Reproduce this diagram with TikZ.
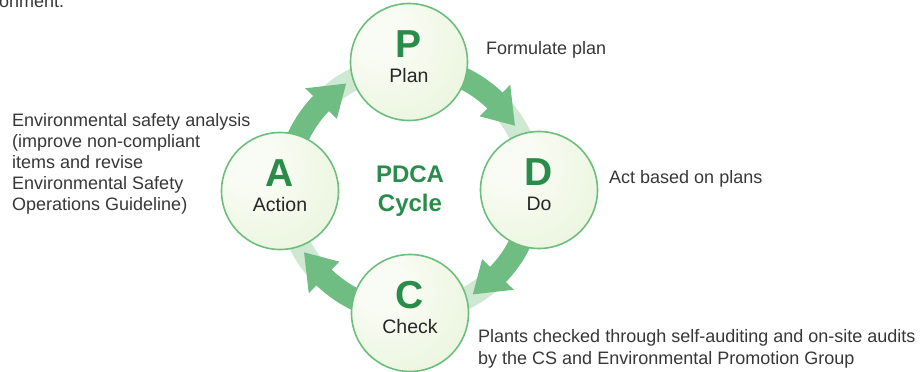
\documentclass[tikz,border=0pt]{standalone}
\usepackage{fontspec}
\setmainfont{Liberation Sans}
\definecolor{arrowc}{RGB}{112,189,131}
\definecolor{bandc}{RGB}{206,232,210}
\definecolor{cedge}{RGB}{108,190,124}
\definecolor{lettg}{RGB}{42,140,74}
\definecolor{txt}{RGB}{55,55,55}
\definecolor{cin}{RGB}{249,252,244}
\definecolor{cmid}{RGB}{232,244,218}
\definecolor{cout}{RGB}{208,233,184}
\pgfdeclareradialshading{cfill}{\pgfpoint{-14bp}{14bp}}{color(0bp)=(cin); color(10bp)=(cin); color(42bp)=(cmid); color(70bp)=(cout)}
\begin{document}
\begin{tikzpicture}[x=1pt,y=1pt,
  circ/.style={circle, minimum size=117pt, inner sep=0pt, draw=cedge, line width=1.6pt, shading=cfill},
  bigl/.style={font=\fontsize{39}{39}\selectfont\bfseries, text=lettg, inner sep=0pt, anchor=base},
  lab/.style={font=\fontsize{19.5}{20}\selectfont, text=black!85, inner sep=0pt, anchor=base},
  side/.style={font=\fontsize{18}{21}\selectfont, text=txt, inner sep=0pt, anchor=base west},
  mid/.style={font=\fontsize{24}{24}\selectfont\bfseries, text=lettg, inner sep=0pt, anchor=base},
  arrowfill/.style={fill=arrowc},
  bandfill/.style={fill=bandc}]
\useasboundingbox (0,0) rectangle (921,372);
\clip (0,0) rectangle (921,372);
% ring arrows
\foreach \rot in {0,-90,-180,-270}{
  \begin{scope}[shift={(409.5,183)}, rotate=\rot]
    \path[bandfill] (136:134) arc[start angle=136,end angle=92,radius=134] -- (92:112) arc[start angle=92,end angle=136,radius=112] -- cycle;
    \path[arrowfill] (162:134) arc[start angle=162,end angle=136,radius=134] -- (136:145) -- (121:123) -- (136:101) -- (136:112) arc[start angle=136,end angle=162,radius=112] -- cycle;
  \end{scope}
}
% circles
\node[circ] (P) at (409,310) {};
\node[circ] (A) at (280,181) {};
\node[circ] (D) at (539,182) {};
\node[circ] (C) at (410,59) {};
\foreach \n/\l/\t in {P/P/Plan, A/A/Action, D/D/Do, C/C/Check}{
  \node[bigl] (\n-letter) at ([yshift=4pt]\n.center) {\l};
  \node[lab] (\n-label) at ([yshift=-21pt]\n.center) {\t};
}
% centre
\node[mid] (pdca) at (410,189) {PDCA};
\node[mid] (cycle) at (410,160) {Cycle};
% side texts
\node[side] (top) at (-1,364.5) {onment.};
\node[side] (plan) at (486,317) {Formulate plan};
\node[side] (act) at (609,188.5) {Act based on plans};
\node[side] (chk1) at (478,29) {Plants checked through self-auditing and on-site audits};
\node[side] (chk2) at (478,7) {by the CS and Environmental Promotion Group};
\foreach \i/\t in {1/Environmental safety analysis, 2/(improve non-compliant, 3/items and revise, 4/Environmental Safety, 5/Operations Guideline)}{
  \node[side] (env\i) at (12,{245-21*(\i-1)}) {\t};
}
\end{tikzpicture}
\end{document}
